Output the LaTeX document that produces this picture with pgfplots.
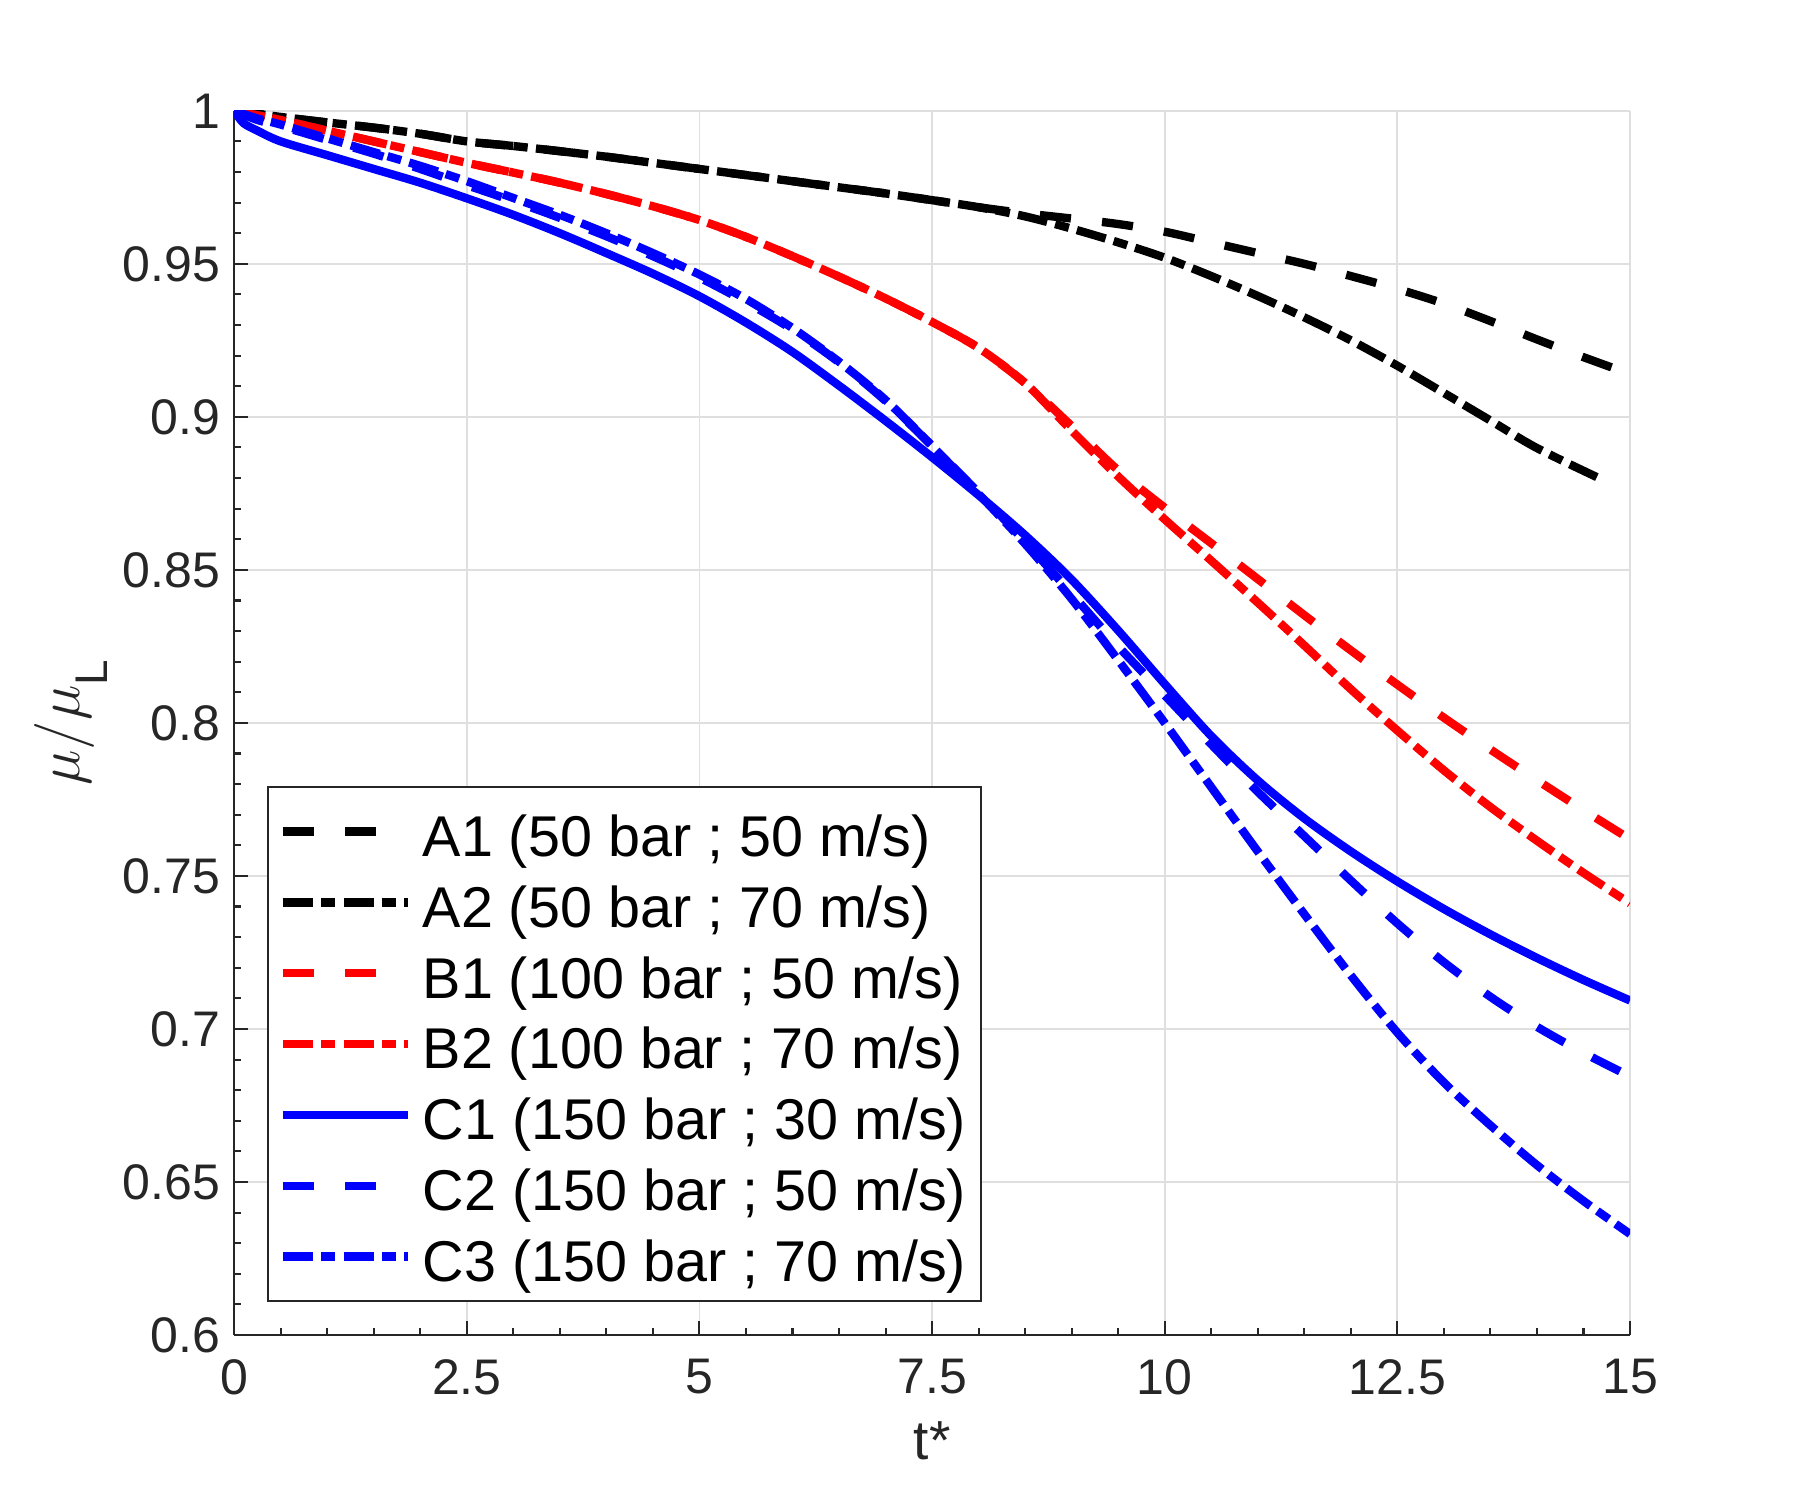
\documentclass[border=0pt]{standalone}
\usepackage{fontspec}
\setmainfont{Liberation Sans}
\usepackage{pgfplots}
\pgfplotsset{compat=1.18}
\definecolor{axgray}{RGB}{38,38,38}
\definecolor{gridgray}{RGB}{223,223,223}
\tikzset{
  dashedM/.style={dash pattern=on 7.5pt off 7.5pt},
  dashdotM/.style={dash pattern=on 7.2pt off 2pt on 3.4pt off 2pt},
}
\begin{document}
\begin{tikzpicture}
\begin{axis}[
  scale only axis,
  width=335pt, height=293.8pt,
  xmin=0, xmax=15, ymin=0.6, ymax=1,
  xtick={0,2.5,5,7.5,10,12.5,15},
  ytick={0.6,0.65,0.7,0.75,0.8,0.85,0.9,0.95,1},
  yticklabels={0.6,0.65,0.7,0.75,0.8,0.85,0.9,0.95,1},
  xticklabels={0,2.5,5,7.5,10,12.5,15},
  minor x tick num=4, minor y tick num=4,
  axis lines=left,
  axis line style={-, draw=axgray, line width=0.5pt},
  tick align=inside,
  major tick length=3.4pt, minor tick length=1.7pt,
  tick style={draw=axgray, line width=0.5pt},
  grid=major,
  major grid style={draw=gridgray, line width=0.45pt},
  ticklabel style={font=\fontsize{12}{14}\selectfont, text=axgray},
  yticklabel style={inner xsep=3.2pt},
  xticklabel style={inner ysep=5.6pt},
  /pgf/number format/assume math mode=true,
  xlabel={t*},
  ylabel={$\mu/\mu$\raisebox{-6.6pt}{\fontsize{11}{11}\selectfont L}},
  xlabel style={at={(axis description cs:0.5,-0.1021)}, anchor=base, font=\fontsize{13.2}{15}\selectfont, text=axgray},
  ylabel style={at={(axis description cs:-0.0902,0.5)}, anchor=south, rotate=0, inner sep=0pt, font=\fontsize{13.4}{15}\selectfont, text=axgray},
  legend style={
    at={(axis description cs:0.0236,0.0266)}, anchor=south west,
    draw=axgray, line width=0.5pt, fill=white,
    font=\fontsize{13.8}{14}\selectfont,
    inner xsep=2.5pt, inner ysep=3.8pt,
    row sep=3.1pt,
    nodes={inner sep=1pt, text height=11.9pt, text depth=0pt},
    cells={anchor=west},
  },
  legend image code/.code={\draw[#1, line width=2pt] (0pt,0pt) -- (30pt,0pt); \path[draw=none] (0pt,0pt) -- (32.6pt,0pt);},
  every axis plot/.append style={line width=2pt, line join=round},
]
% A1
\addplot[black, dashedM, smooth] coordinates {
(0,1) (0.5,0.998) (1,0.9962) (1.5,0.9945) (2,0.9925) (2.5,0.990) (3,0.9885) (3.5,0.9868) (4,0.985) (4.5,0.983) (5,0.981) (5.5,0.979) (6,0.977) (6.5,0.975) (7,0.973) (7.5,0.9708) (8,0.9685) (8.5,0.9665) (9,0.9648) (9.5,0.9630) (10,0.9605) (10.5,0.957) (11,0.9535) (11.5,0.950) (12,0.9460) (12.5,0.9418) (13,0.9370) (13.5,0.9313) (14,0.9253) (14.5,0.9195) (15,0.9140)
};
\addlegendentry{A1 (50 bar ; 50 m/s)}
% A2
\addplot[black, dashdotM, smooth] coordinates {
(0,1) (0.5,0.998) (1,0.9962) (1.5,0.9945) (2,0.9925) (2.5,0.990) (3,0.9885) (3.5,0.9868) (4,0.985) (4.5,0.983) (5,0.981) (5.5,0.979) (6,0.977) (6.5,0.975) (7,0.973) (7.5,0.9708) (8,0.9685) (8.5,0.9655) (9,0.9615) (9.5,0.957) (10,0.952) (10.5,0.946) (11,0.9395) (11.5,0.9325) (12,0.9250) (12.5,0.9167) (13,0.9078) (13.5,0.8988) (14,0.8898) (14.7,0.8795)
};
\addlegendentry{A2 (50 bar ; 70 m/s)}
% B1
\addplot[red, dashedM, smooth] coordinates {
(0,1) (0.25,0.9985) (0.5,0.997) (1,0.9935) (1.5,0.990) (2,0.9865) (2.5,0.983) (3,0.9798) (3.5,0.9765) (4,0.9728) (4.5,0.9688) (5,0.9643) (5.5,0.9588) (6,0.9525) (6.5,0.9458) (7,0.9387) (7.5,0.931) (8,0.9225) (8.5,0.911) (9,0.897) (9.5,0.8825) (10,0.8703) (10.5,0.8587) (11,0.8470) (11.5,0.8352) (12,0.8237) (12.5,0.8125) (13,0.8017) (13.5,0.7913) (14,0.7813) (14.5,0.7715) (15,0.762)
};
\addlegendentry{B1 (100 bar ; 50 m/s)}
% B2
\addplot[red, dashdotM, smooth] coordinates {
(0,1) (0.25,0.9985) (0.5,0.997) (1,0.9935) (1.5,0.990) (2,0.9865) (2.5,0.983) (3,0.9798) (3.5,0.9765) (4,0.9728) (4.5,0.9688) (5,0.9643) (5.5,0.9588) (6,0.9525) (6.5,0.9458) (7,0.9387) (7.5,0.931) (8,0.9225) (8.5,0.911) (9,0.8955) (9.5,0.8805) (10,0.8665) (10.5,0.853) (11,0.8393) (11.5,0.8253) (12,0.811) (12.5,0.7975) (13,0.7845) (13.5,0.7725) (14,0.7615) (14.5,0.751) (15,0.741)
};
\addlegendentry{B2 (100 bar ; 70 m/s)}
% C1
\addplot[blue, solid, smooth] coordinates {
(0,1) (0.1,0.996) (0.25,0.9935) (0.5,0.990) (1,0.9855) (1.5,0.981) (2,0.9765) (2.5,0.9714) (3,0.966) (3.5,0.960) (4,0.9535) (4.5,0.9468) (5,0.9394) (5.5,0.9308) (6,0.9212) (6.5,0.9102) (7,0.8987) (7.5,0.8868) (8,0.8744) (8.5,0.8613) (9,0.8468) (9.5,0.8302) (10,0.8127) (10.5,0.7957) (11,0.7812) (11.5,0.7688) (12,0.758) (12.5,0.7482) (13,0.7392) (13.5,0.7309) (14,0.7232) (14.5,0.716) (15,0.7093)
};
\addlegendentry{C1 (150 bar ; 30 m/s)}
% C2
\addplot[blue, dashedM, smooth] coordinates {
(0,1) (0.25,0.997) (0.5,0.995) (1,0.9905) (1.5,0.986) (2,0.981) (2.5,0.9757) (3,0.9705) (3.5,0.965) (4,0.959) (4.5,0.9525) (5,0.9455) (5.5,0.9375) (6,0.9285) (6.5,0.9178) (7,0.9052) (7.5,0.8905) (8,0.8752) (8.5,0.8592) (9,0.8422) (9.5,0.825) (10,0.809) (10.5,0.793) (11,0.7775) (11.5,0.763) (12,0.7485) (12.5,0.7345) (13,0.7218) (13.5,0.7105) (14,0.7007) (14.5,0.6922) (15,0.6845)
};
\addlegendentry{C2 (150 bar ; 50 m/s)}
% C3
\addplot[blue, dashdotM, smooth] coordinates {
(0,1) (0.25,0.9975) (0.5,0.9955) (1,0.991) (1.5,0.9865) (2,0.982) (2.5,0.977) (3,0.9715) (3.5,0.966) (4,0.960) (4.5,0.9535) (5,0.9465) (5.5,0.9385) (6,0.929) (6.5,0.918) (7,0.9055) (7.5,0.8905) (8,0.8748) (8.5,0.8585) (9,0.8405) (9.5,0.8205) (10,0.800) (10.5,0.779) (11,0.758) (11.5,0.7375) (12,0.7175) (12.5,0.6988) (13,0.6825) (13.5,0.6685) (14,0.6555) (14.5,0.6438) (15,0.633)
};
\addlegendentry{C3 (150 bar ; 70 m/s)}
\end{axis}
\path (current axis.south west) ++(-56.2pt,-39.6pt) rectangle ([shift={(40.8pt,26.6pt)}]current axis.north east);
\end{tikzpicture}
\end{document}
